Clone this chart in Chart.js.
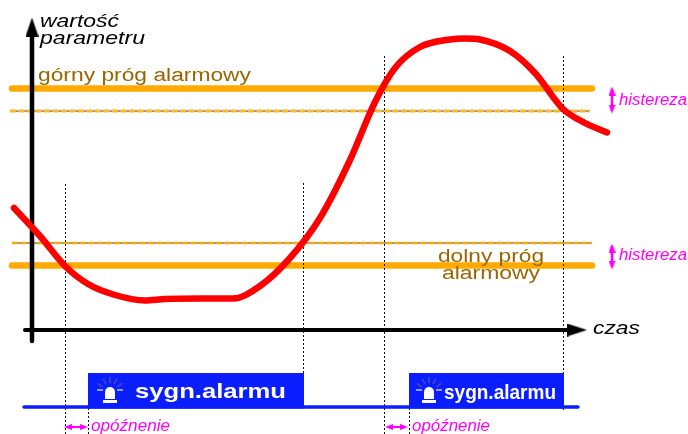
<!DOCTYPE html>
<html>
<head>
<meta charset="utf-8">
<style>
html, body { margin: 0; padding: 0; background: #fff; }
canvas { display: block; }
</style>
<script src="https://cdn.jsdelivr.net/npm/chart.js@4"></script>
</head>
<body>
<canvas id="chart" width="688" height="434"></canvas>
<script>
// everything: x = time, y = parameter value (both in picture units)
const curveTime = [14, 40, 65, 88, 115, 145, 165, 200, 233, 260, 290, 320, 350, 375, 395, 420, 450, 465, 480, 510, 535, 563, 585, 607];
const curveValue = [226, 198, 168, 150, 139, 133.5, 135, 135.5, 135.5, 148, 176, 216, 274, 332, 366, 387, 394.5, 395.5, 394.5, 383, 361, 325, 311, 301.5];

const upperAlarm = 345.5;
const upperHyst = 323;
const lowerHyst = 191;
const lowerAlarm = 168.5;
const timeAxisValue = 104;
const valueAxisTime = 32;
const signalLow = 27;

const alarmOneTime = [88, 88, 304, 304];
const alarmTwoTime = [409, 409, 564, 564];
const alarmLevel = [25.5, 61, 61, 25.5];

const cursorTimes = [65.5, 303.5, 384.5, 563.5, 88.5, 409.5];
const cursorTop = [250, 252, 380, 378, 27, 29];
const cursorBottom = [0, 61, 0, 24, 0, 0];

const arrowShape = (w, h, color) => {
    const c = document.createElement('canvas');
    c.width = w;
    c.height = h;
    const g = c.getContext('2d');
    g.fillStyle = color;
    g.beginPath();
    g.moveTo(w / 2, 0);
    g.lineTo(w, h);
    g.lineTo(0, h);
    g.closePath();
    g.fill();
    return c;
};

function lineSet(xs, ys, color, width, extra) {
    return Object.assign({
        data: xs.map((x, i) => ({ x: x, y: ys[i] })),
        borderColor: color,
        borderWidth: width,
        pointRadius: 0,
        showLine: true,
        fill: false,
        borderCapStyle: 'round'
    }, extra || {});
}

function arrowSet(x, y, shape, rotation, order) {
    return {
        data: [{ x: x, y: y }],
        pointStyle: shape,
        rotation: rotation,
        pointRadius: 10,
        showLine: false,
        order: order
    };
}

const datasets = [];

// cursors
cursorTimes.forEach((t, i) => {
    datasets.push(lineSet([t, t], [cursorBottom[i], cursorTop[i]], '#111', 1, { borderDash: [2, 2], borderCapStyle: 'butt', order: 3 }));
});

// alarm thresholds
datasets.push(lineSet([12, 592], [upperAlarm, upperAlarm], '#ffaa00', 6.5, { order: 5 }));
datasets.push(lineSet([12, 592], [lowerAlarm, lowerAlarm], '#ffaa00', 6.5, { order: 5 }));
datasets.push(lineSet([10, 590], [upperHyst, upperHyst], '#ffb820', 3, { borderDash: [6, 2.5], borderCapStyle: 'butt', order: 5 }));
datasets.push(lineSet([10, 590], [upperHyst, upperHyst], '#333', 1, { borderDash: [2.5, 6], borderDashOffset: -6, borderCapStyle: 'butt', order: 4 }));
datasets.push(lineSet([12, 592], [lowerHyst, lowerHyst], '#ffaa00', 2.5, { borderDash: [6, 2.5], borderCapStyle: 'butt', order: 5 }));
datasets.push(lineSet([12, 592], [lowerHyst, lowerHyst], '#333', 1, { borderDash: [2.5, 6], borderDashOffset: -6, borderCapStyle: 'butt', order: 4 }));

// axes
datasets.push(lineSet([valueAxisTime, valueAxisTime], [93, 398], '#000', 4.5, { order: 2 }));
datasets.push(lineSet([25, 570], [timeAxisValue, timeAxisValue], '#000', 4, { order: 2 }));
datasets.push(arrowSet(valueAxisTime, 407, arrowShape(13, 19, '#000'), 0, 1));
datasets.push(arrowSet(577, timeAxisValue, arrowShape(13, 20, '#000'), 90, 1));

// measured value
datasets.push(lineSet(curveTime, curveValue, '#ff0000', 6.5, { cubicInterpolationMode: 'monotone', order: 1 }));

// alarm signal
datasets.push(lineSet([24, 578], [signalLow, signalLow], '#0a1eff', 3.5, { order: 2 }));
datasets.push(lineSet(alarmOneTime, alarmLevel, '#0a1eff', 0, { fill: { value: 25.5 }, backgroundColor: '#0a1eff', order: 2 }));
datasets.push(lineSet(alarmTwoTime, alarmLevel, '#0a1eff', 0, { fill: { value: 25.5 }, backgroundColor: '#0a1eff', order: 2 }));

// pink markers
const pink = '#ff00ff';
[[612, 321, 347], [612, 165, 190]].forEach(m => {
    datasets.push(lineSet([m[0], m[0]], [m[1] + 3, m[2] - 3], pink, 2.5, { order: 1 }));
    datasets.push(arrowSet(m[0], m[2] - 4, arrowShape(7, 9, pink), 0, 1));
    datasets.push(arrowSet(m[0], m[1] + 4, arrowShape(7, 9, pink), 180, 1));
});
[[65, 87, 7], [386, 407, 7]].forEach(m => {
    datasets.push(lineSet([m[0] + 3, m[1] - 3], [m[2], m[2]], pink, 2, { order: 1 }));
    datasets.push(arrowSet(m[1] - 3, m[2], arrowShape(6, 8, pink), 90, 1));
    datasets.push(arrowSet(m[0] + 3, m[2], arrowShape(6, 8, pink), 270, 1));
});

// text: string, left, baseline, width on the picture, font, colour
const labels = [
    ['wartość', 40, 407, 79, 'italic 19px "Liberation Sans"', '#000'],
    ['parametru', 40, 390, 105, 'italic 19px "Liberation Sans"', '#000'],
    ['górny próg alarmowy', 38, 353.5, 213, '18px "Liberation Sans"', '#996600'],
    ['dolny próg', 438, 172, 106, '18px "Liberation Sans"', '#996600'],
    ['alarmowy', 442, 155.5, 98, '18px "Liberation Sans"', '#996600'],
    ['histereza', 619, 329, 68, 'italic 16px "Liberation Sans"', pink],
    ['histereza', 619, 174, 68, 'italic 16px "Liberation Sans"', pink],
    ['czas', 593, 100.5, 47, 'italic 18px "Liberation Sans"', '#000'],
    ['opóźnenie', 91, 3, 79, 'italic 16px "Liberation Sans"', pink],
    ['opóźnenie', 412, 3, 78, 'italic 16px "Liberation Sans"', pink],
    ['sygn.alarmu', 135, 36, 151, 'bold 21px "Liberation Sans"', '#fff'],
    ['sygn.alarmu', 444, 35.5, 112, 'bold 21px "Liberation Sans"', '#fff']
];

function drawLamp(ctx, cx, cy) {
    ctx.save();
    ctx.strokeStyle = '#4b4bb0';
    ctx.lineWidth = 1.5;
    [-55, -27, 0, 27, 55].forEach(a => {
        const r = a * Math.PI / 180;
        ctx.beginPath();
        ctx.moveTo(cx + Math.sin(r) * 9, cy - 2 - Math.cos(r) * 9);
        ctx.lineTo(cx + Math.sin(r) * 15, cy - 2 - Math.cos(r) * 15);
        ctx.stroke();
    });
    ctx.beginPath();
    ctx.moveTo(cx - 13, cy - 4);
    ctx.lineTo(cx - 7, cy - 4);
    ctx.moveTo(cx + 7, cy - 4);
    ctx.lineTo(cx + 13, cy - 4);
    ctx.strokeStyle = '#c5c8ff';
    ctx.stroke();
    ctx.fillStyle = '#fff';
    ctx.beginPath();
    ctx.arc(cx, cy - 2, 5, Math.PI, 0);
    ctx.lineTo(cx + 5, cy + 5);
    ctx.lineTo(cx - 5, cy + 5);
    ctx.closePath();
    ctx.fill();
    ctx.fillRect(cx - 7, cy + 6, 14, 3);
    ctx.restore();
}

const labelPlugin = {
    id: 'labelPlugin',
    afterDatasetsDraw(chart) {
        const ctx = chart.ctx;
        const xs = chart.scales.x;
        const ys = chart.scales.y;
        drawLamp(ctx, xs.getPixelForValue(110), ys.getPixelForValue(40));
        drawLamp(ctx, xs.getPixelForValue(429), ys.getPixelForValue(40));
        labels.forEach(l => {
            ctx.save();
            ctx.font = l[4];
            ctx.fillStyle = l[5];
            ctx.textBaseline = 'alphabetic';
            const k = l[3] / ctx.measureText(l[0]).width;
            ctx.translate(xs.getPixelForValue(l[1]), ys.getPixelForValue(l[2]));
            ctx.scale(k, 1);
            ctx.fillText(l[0], 0, 0);
            ctx.restore();
        });
    }
};

new Chart(document.getElementById('chart').getContext('2d'), {
    type: 'scatter',
    data: { datasets: datasets },
    options: {
        responsive: false,
        animation: false,
        layout: { padding: 0, autoPadding: false },
        plugins: { legend: { display: false }, tooltip: { enabled: false }, title: { display: false } },
        scales: {
            x: { type: 'linear', min: 0, max: 688, display: false },
            y: { type: 'linear', min: 0, max: 434, display: false }
        }
    },
    plugins: [labelPlugin]
});
</script>
</body>
</html>
